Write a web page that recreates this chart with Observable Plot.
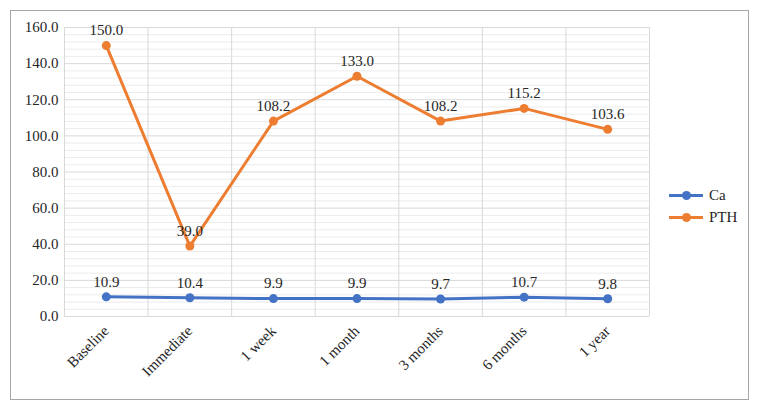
<!DOCTYPE html>
<html>
<head>
<meta charset="utf-8">
<script src="https://cdn.jsdelivr.net/npm/d3@7"></script>
<script src="https://cdn.jsdelivr.net/npm/@observablehq/plot@0.6"></script>
<style>
  body { margin: 0; background: #fff; }
  #wrap { position: relative; width: 759px; height: 410px; font-family: "Liberation Serif", "Times New Roman", serif; }
  #wrap svg, #wrap svg text { font-family: "Liberation Serif", "Times New Roman", serif !important; }
  #border { position: absolute; left: 10px; top: 10px; width: 737px; height: 388px; border: 1px solid #a6a6a6; pointer-events: none; }
  #legend { position: absolute; left: 669px; top: 184px; font-size: 15px; color: #262626; }
  .li { display: flex; align-items: center; height: 22px; }
  .sw { position: relative; width: 34px; height: 3px; margin-right: 6px; }
  .sw span { position: absolute; left: 13px; top: -3px; width: 9px; height: 9px; border-radius: 50%; }
</style>
</head>
<body>
<div id="wrap">
  <div id="chart"></div>
  <div id="border"></div>
  <div id="legend"></div>
</div>
<script>
const categories = ["Baseline", "Immediate", "1 week", "1 month", "3 months", "6 months", "1 year"];
const seriesNames = ["Ca", "PTH"];
const caValues = [10.9, 10.4, 9.9, 9.9, 9.7, 10.7, 9.8];
const pthValues = [150.0, 39.0, 108.2, 133.0, 108.2, 115.2, 103.6];
const colors = ["#4472C4", "#ED7D31"];
const yTicks = [0, 20, 40, 60, 80, 100, 120, 140, 160];

const rows = [];
[caValues, pthValues].forEach((vals, s) => {
  vals.forEach((v, i) => rows.push({series: seriesNames[s], i, value: v}));
});
const boundaries = d3.range(-0.5, categories.length, 1);
const minor = d3.range(0, 161, 4).filter(v => v % 20 !== 0);

const chart = Plot.plot({
  width: 759,
  height: 410,
  marginLeft: 64,
  marginRight: 110,
  marginTop: 27,
  marginBottom: 94,
  style: {fontSize: "15px", color: "#262626", background: "transparent"},
  x: {domain: [-0.5, categories.length - 0.5], ticks: d3.range(categories.length), tickFormat: i => categories[i], tickSize: 0, tickRotate: -45, tickPadding: 12, label: null},
  y: {domain: [0, 160], ticks: yTicks, tickFormat: d => d.toFixed(1), tickSize: 0, tickPadding: 6, label: null},
  color: {domain: seriesNames, range: colors},
  marks: [
    Plot.ruleY(minor, {stroke: "#ececec", strokeWidth: 1}),
    Plot.ruleY(yTicks, {stroke: "#d9d9d9", strokeWidth: 1}),
    Plot.ruleX(boundaries, {stroke: "#d9d9d9", strokeWidth: 1}),
    Plot.line(rows, {x: "i", y: "value", z: "series", stroke: "series", strokeWidth: 3}),
    Plot.dot(rows, {x: "i", y: "value", fill: "series", r: 4.5}),
    Plot.text(rows, {x: "i", y: "value", text: d => d.value.toFixed(1), dy: -15, fill: "#262626", fontSize: 15})
  ]
});
document.getElementById("chart").appendChild(chart);

const legend = document.getElementById("legend");
seriesNames.forEach((name, s) => {
  const row = document.createElement("div");
  row.className = "li";
  row.innerHTML = `<div class="sw" style="background:${colors[s]}"><span style="background:${colors[s]}"></span></div><div>${name}</div>`;
  legend.appendChild(row);
});
</script>
</body>
</html>
